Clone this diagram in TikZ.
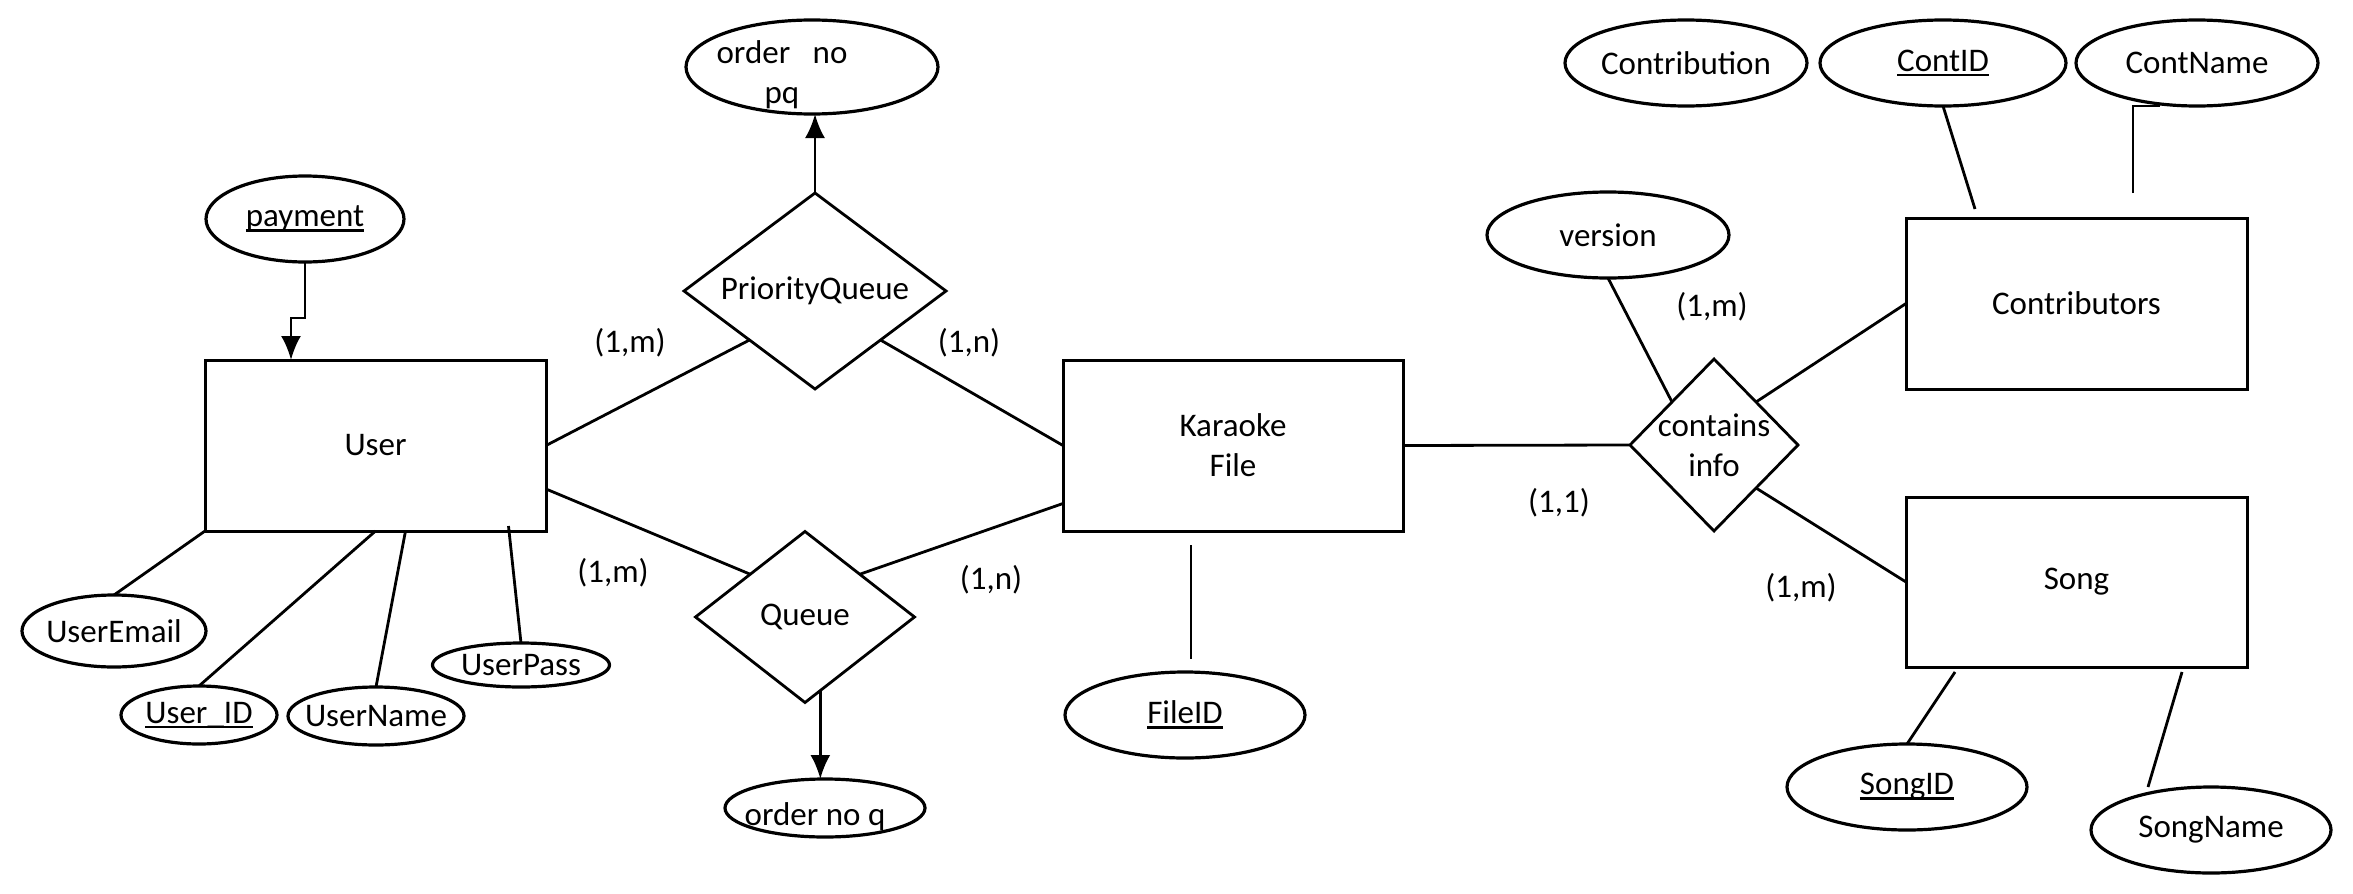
\documentclass[tikz,border=0pt]{standalone}
\usepackage{fontspec}
\setmainfont{Carlito}
\usetikzlibrary{shapes.geometric,arrows.meta,calc}
\newcommand{\ulx}[1]{\setbox0=\hbox{#1}\leavevmode\rlap{\rule[-5pt]{\wd0}{2.5pt}}\box0}
\begin{document}
\begin{tikzpicture}[x=1pt,y=-1pt,
  every node/.append style={font=\fontsize{33}{40}\selectfont},
  attr/.style={draw, ellipse, line width=3.2pt, inner sep=0pt, outer sep=0pt},
  ent/.style={draw, rectangle, line width=3pt, inner sep=0pt, outer sep=0pt},
  rel/.style={draw, diamond, line width=2.8pt, inner sep=0pt, outer sep=0pt},
  conn/.style={line width=2.8pt},
  arr/.style={line width=2.8pt, -{Latex[length=24pt,width=20pt]}},
  card/.style={inner sep=0pt}
]
\fill[white] (0,0) rectangle (2353,894);
\useasboundingbox (0,0) rectangle (2353,894);

% attributes and relations
\node[attr, minimum width=252pt, minimum height=94pt, label={[align=center,xshift=-30pt,yshift=-8pt]center:order~~~no\\pq}] (opq) at (812,67) {};
\node[rel, minimum width=262pt, minimum height=196pt, aspect=1.34, label={center:PriorityQueue}] (PQ) at (815,291) {};
\node[attr, minimum width=198pt, minimum height=86pt, label={center:\ulx{payment}}] (pay) at (305,219) {};
\node[ent, minimum width=341pt, minimum height=171pt] (User) at (375.5,445.5) {User};
\node[rel, minimum width=219pt, minimum height=171pt, aspect=1.28, label={center:Queue}] (Q) at (805,617) {};
\node[attr, minimum width=200pt, minimum height=58pt, label={[xshift=-10pt,yshift=-9pt]center:order no q}] (oq) at (825,808) {};
\node[attr, minimum width=184pt, minimum height=72pt, label={center:UserEmail}] (email) at (114,631) {};
\node[attr, minimum width=156pt, minimum height=58pt, label={center:\ulx{User\_ID}}] (uid) at (199,715) {};
\node[attr, minimum width=176pt, minimum height=58pt, label={center:UserName}] (uname) at (376,716) {};
\node[attr, minimum width=177pt, minimum height=44pt, label={center:UserPass}] (upass) at (521,665) {};
\node[ent, minimum width=340pt, minimum height=171pt, align=center] (KF) at (1233,445.5) {Karaoke\\File};
\node[attr, minimum width=240pt, minimum height=86pt, label={center:\ulx{FileID}}] (fid) at (1185,715) {};
\node[rel, minimum width=168pt, minimum height=172pt, aspect=0.98, label={[align=center]center:contains\\info}] (CI) at (1714,445) {};
\node[attr, minimum width=242pt, minimum height=86pt, label={center:version}] (ver) at (1608,235) {};
\node[ent, minimum width=341pt, minimum height=171pt] (Con) at (2076.5,303.5) {Contributors};
\node[ent, minimum width=341pt, minimum height=170pt] (Song) at (2076.5,582) {Song};
\node[attr, minimum width=242pt, minimum height=86pt, label={center:Contribution}] (ctb) at (1686,63) {};
\node[attr, minimum width=246pt, minimum height=86pt, label={center:\ulx{ContID}}] (cid) at (1943,63) {};
\node[attr, minimum width=242pt, minimum height=86pt, label={center:ContName}] (cname) at (2197,63) {};
\node[attr, minimum width=240pt, minimum height=86pt, label={center:\ulx{SongID}}] (sid) at (1907,787) {};
\node[attr, minimum width=240pt, minimum height=86pt, label={center:SongName}] (sname) at (2211,830) {};

% cardinalities
\node[card] (c1) at (630,343) {(1,m)};
\node[card] (c2) at (969,343) {(1,n)};
\node[card] (c3) at (613,573) {(1,m)};
\node[card] (c4) at (991,580) {(1,n)};
\node[card] (c5) at (1712,307) {(1,m)};
\node[card] (c6) at (1559,503) {(1,1)};
\node[card] (c7) at (1801,588) {(1,m)};

% connectors
\coordinate (j1) at (291,318);
\draw[arr] (pay.south) |- (j1) -- (j1 |- User.north);
\draw[arr] (PQ.north) -- (PQ.north |- opq.south);
\draw[conn] (User.east) -- (PQ.south west);
\draw[conn] (PQ.south east) -- (KF.west);
\draw[conn] ($(User.south east)+(0,-42)$) -- (Q.north west);
\draw[conn] (Q.north east) -- ($(KF.west)+(0,58)$);
\coordinate (qa) at ($(Q.south)!0.14!(Q.east)$);
\draw[arr] (qa) -- (qa |- oq.north);
\draw[conn] (User.south west) -- (email.north);
\draw[conn] (User.south) -- (uid.north);
\draw[conn] ($(User.south)+(30,0)$) -- (uname.north);
\draw[conn] ($(User.south)+(133,-5)$) -- (upass.north);
\draw[conn] (KF.east) -- (CI.west);
\draw[conn] ($(KF.south)+(-42,14)$) -- ($(fid.north)+(6,-13)$);
\draw[conn] (ver.south) -- (CI.north west);
\draw[conn] (CI.north east) -- (Con.west);
\draw[conn] (CI.south east) -- (Song.west);
\draw[conn] (cid.south) -- ($(Con.north west)+(69,-9)$);
\draw[conn] ($(Con.north west)+(227,-25)$) |- ($(cname.south)+(-37,0)$);
\draw[conn] ($(Song.south west)+(49,5)$) -- (sid.north);
\draw[conn] ($(Song.south west)+(276,5)$) -- ($(sname.north)+(-63,0)$);
\end{tikzpicture}
\end{document}
